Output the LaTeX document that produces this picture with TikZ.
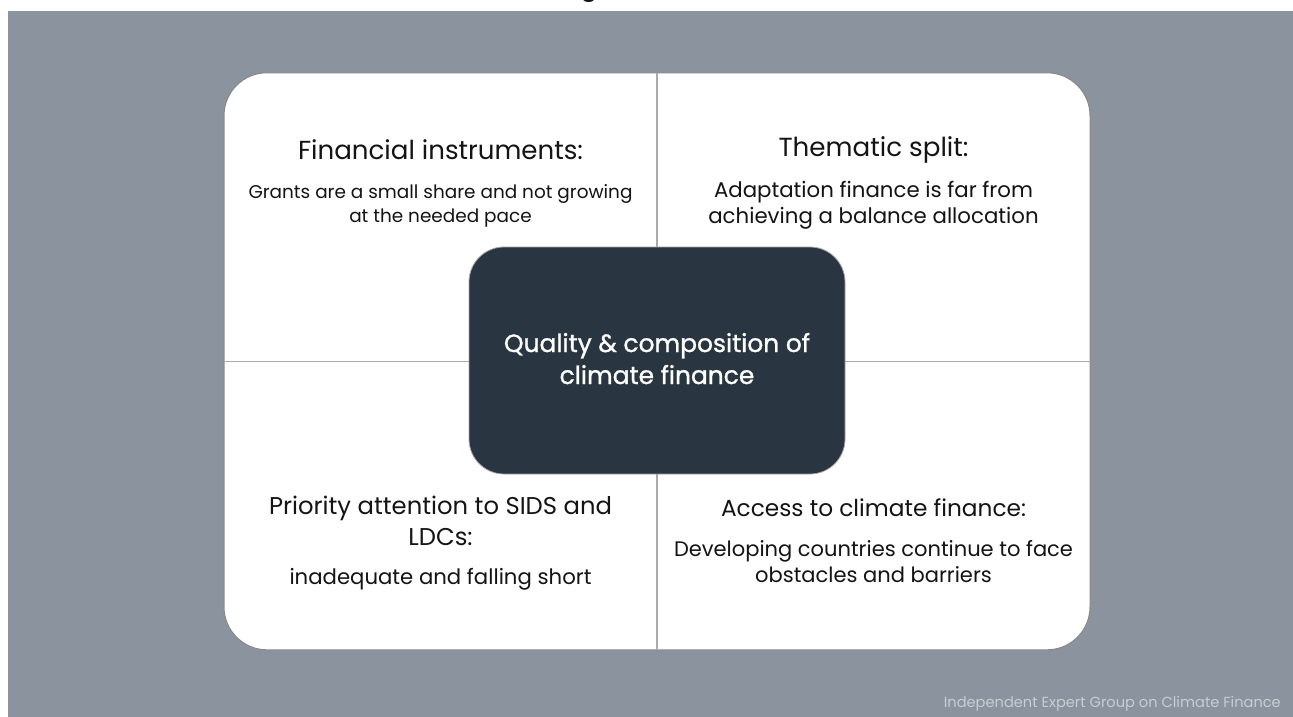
\documentclass[tikz,border=0pt]{standalone}
\usepackage{fontspec}
\setmainfont{Poppins}
\newfontfamily\popmed[FakeBold=1.1]{Poppins}
\definecolor{bggray}{RGB}{138,147,158}
\definecolor{coreblue}{RGB}{41,54,66}
\definecolor{divgray}{RGB}{170,170,170}
\definecolor{txt}{RGB}{20,20,20}
\definecolor{foot}{RGB}{200,205,211}
\newlength\mw
\newcommand\fitsize[3]{%
  \settowidth\mw{\normalfont\fontsize{10pt}{12pt}\selectfont #3}%
  \pgfmathsetmacro#1{10*#2/\mw}%
}
\tikzset{
  card/.style={draw=divgray!80!black, line width=1pt, fill=white, rounded corners=43pt,
    minimum width=866pt, minimum height=577pt, inner sep=0pt, outer sep=0pt},
  core/.style={draw=gray!70, line width=0.8pt, fill=coreblue, rounded corners=35pt,
    minimum width=376pt, minimum height=227pt, inner sep=0pt, outer sep=0pt},
  divider/.style={draw=divgray, line width=1.2pt},
  line/.style={anchor=base, inner sep=0pt, text=txt},
}
\begin{document}
\fitsize{\tlt}{285}{Financial instruments:}%
\fitsize{\tlb}{384}{Grants are a small share and not growing}%
\fitsize{\trt}{190}{Thematic split:}%
\fitsize{\trb}{319}{Adaptation finance is far from}%
\fitsize{\blt}{343}{Priority attention to SIDS and}%
\fitsize{\blb}{302}{inadequate and falling short}%
\fitsize{\brt}{305}{Access to climate finance:}%
\fitsize{\brb}{399}{Developing countries continue to face}%
\fitsize{\cc}{306}{\popmed Quality \& composition of}%
\fitsize{\ft}{337}{Independent Expert Group on Climate Finance}%
\begin{tikzpicture}[x=1pt,y=-1pt]
\useasboundingbox (0,0) rectangle (1293,717);
\clip (0,0) rectangle (1293,717);
\fill[white] (0,0) rectangle (1293,717);
\fill[bggray] (8,11) rectangle (1293,717);
% fragment of the cut-off heading above
\node[line] (topg) at (589,-4.5) {\fontsize{\tlt pt}{\tlt pt}\selectfont g};
% card and dividers
\node[card] (card) at (657,361.3) {};
\draw[divider] (card.north) -- (card.south);
\draw[divider] (card.west) -- (card.east);
% centre box
\node[core] (core) at (657,360.5) {};
% top left
\node[line] (tlT) at (440.5,159) {\fontsize{\tlt pt}{\tlt pt}\selectfont Financial instruments:};
\node[line] (tlB1) at (440.5,198) {\fontsize{\tlb pt}{\tlb pt}\selectfont Grants are a small share and not growing};
\node[line] (tlB2) at (440.5,222) {\fontsize{\tlb pt}{\tlb pt}\selectfont at the needed pace};
% top right
\node[line] (trT) at (873.5,156) {\fontsize{\trt pt}{\trt pt}\selectfont Thematic split:};
\node[line] (trB1) at (873.5,197) {\fontsize{\trb pt}{\trb pt}\selectfont Adaptation finance is far from};
\node[line] (trB2) at (873.5,223) {\fontsize{\trb pt}{\trb pt}\selectfont achieving a balance allocation};
% bottom left
\node[line] (blT1) at (440.5,514) {\fontsize{\blt pt}{\blt pt}\selectfont Priority attention to SIDS and};
\node[line] (blT2) at (440.5,545) {\fontsize{\blt pt}{\blt pt}\selectfont LDCs:};
\node[line] (blB) at (440.5,584) {\fontsize{\blb pt}{\blb pt}\selectfont inadequate and falling short};
% bottom right
\node[line] (brT) at (873.5,516) {\fontsize{\brt pt}{\brt pt}\selectfont Access to climate finance:};
\node[line] (brB1) at (873.5,556) {\fontsize{\brb pt}{\brb pt}\selectfont Developing countries continue to face};
\node[line] (brB2) at (873.5,582) {\fontsize{\brb pt}{\brb pt}\selectfont obstacles and barriers};
% centre text
\node[line, text=white] (cT1) at (657,352) {\popmed\fontsize{\cc pt}{\cc pt}\selectfont Quality \& composition of};
\node[line, text=white] (cT2) at (657,384) {\popmed\fontsize{\cc pt}{\cc pt}\selectfont climate finance};
% footer
\node[line, anchor=base east, text=foot] (footer) at (1281,707) {\fontsize{\ft pt}{\ft pt}\selectfont Independent Expert Group on Climate Finance};
\end{tikzpicture}
\end{document}
